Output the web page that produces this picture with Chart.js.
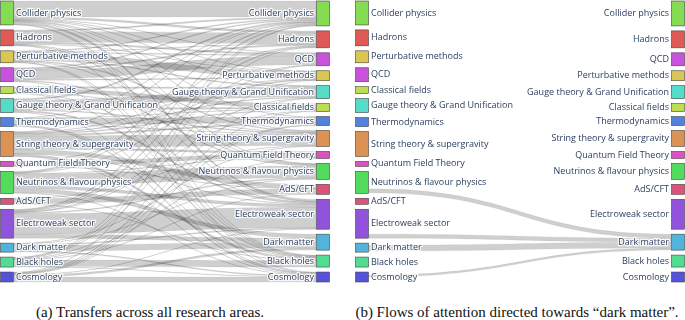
<!DOCTYPE html>
<html>
<head>
<meta charset="utf-8">
<script src="https://cdn.jsdelivr.net/npm/chart.js@4/dist/chart.umd.min.js"></script>
<style>
html,body{margin:0;padding:0;background:#fff;width:685px;height:320px;overflow:hidden;position:relative}
canvas{position:absolute;top:0}
.cap{position:absolute;top:304px;line-height:16px;font-family:"Liberation Serif","DejaVu Serif",serif;font-size:15px;color:#111;white-space:nowrap;transform:translateX(-50%)}
</style>
</head>
<body>
<canvas id="ca" width="331" height="284" style="left:0px"></canvas>
<canvas id="cb" width="331" height="284" style="left:355px"></canvas>
<div class="cap" id="capA" style="left:150px"></div>
<div class="cap" id="capB" style="left:517px"></div>
<script>
// ---- data ----
const categories = ['Collider physics','Hadrons','Perturbative methods','QCD','Classical fields',
  'Gauge theory & Grand Unification','Thermodynamics','String theory & supergravity',
  'Quantum Field Theory','Neutrinos & flavour physics','AdS/CFT','Electroweak sector',
  'Dark matter','Black holes','Cosmology'];
const rightOrder = ['Collider physics','Hadrons','QCD','Perturbative methods',
  'Gauge theory & Grand Unification','Classical fields','Thermodynamics',
  'String theory & supergravity','Quantum Field Theory','Neutrinos & flavour physics',
  'AdS/CFT','Electroweak sector','Dark matter','Black holes','Cosmology'];
const linkSource = [
  0,0,0,0,0,0,0,0,0,0,0,
  1,1,1,1,1,1,1,
  2,2,2,2,2,2,2,2,2,
  3,3,3,3,3,3,
  4,4,4,4,4,
  5,5,5,5,5,5,
  6,6,6,6,6,6,
  7,7,7,7,7,7,7,7,7,7,7,
  8,8,8,
  9,9,9,9,9,9,9,9,
  10,10,10,
  11,11,11,11,11,11,11,11,
  12,12,12,12,12,
  13,13,13,13,13,13,13,13,
  14,14,14,14,14,14,14,14];
const linkTarget = [
  0,1,11,2,13,14,7,6,5,9,3,
  1,3,0,9,2,11,13,
  2,3,5,0,13,7,1,9,14,
  3,1,2,0,9,13,
  4,5,13,7,11,
  5,4,7,11,0,14,
  6,13,14,4,0,7,
  7,10,8,13,5,4,14,6,11,0,2,
  8,10,2,
  9,12,11,0,8,14,1,2,
  10,7,13,
  11,12,0,9,1,3,4,5,
  12,14,11,9,7,
  13,10,6,14,8,0,1,3,
  14,12,11,6,4,0,2,5];
const linkValue = [
  16,2,2,0.5,0.5,0.5,0.5,0.5,0.5,0.5,0.5,
  11,1.5,1.5,0.5,0.5,0.5,0.5,
  6,1,1,1,0.5,1,0.5,0.5,0.5,
  9,1.5,1,1,1,0.5,
  4,1.5,0.5,0.5,0.5,
  8,1.5,1,1.5,1.5,0.5,
  6,0.5,1,0.5,0.5,0.5,
  11.5,4,2,2,1,1,0.5,1.5,0.5,0.5,0.5,
  4,0.5,0.5,
  12,4,3,1,0.5,0.5,0.5,0.5,
  5,0.5,0.5,
  20.5,4,1,1,1,0.5,0.5,0.5,
  6,1,1,0.5,0.5,
  6.5,0.5,0.5,0.5,0.5,0.5,0.5,0.5,
  5,2,0.5,0.5,0.5,0.5,0.5,0.5];
const focusArea = 'Dark matter';
const captions = ['(a) Transfers across all research areas.',
  '(b) Flows of attention directed towards \u201cdark matter\u201d.'];

// ---- styles ----
const nodeColors = ['#84dc52','#e05a55','#dac652','#c952dc','#bede52','#55dcc8','#5282dc',
  '#dc9255','#dc52c0','#52dc5e','#dc527a','#9152dc','#52b4dc','#52dc91','#5552dc'];
const NODE_PAD = 5, NODE_W = 14, LINK_FILL = 'rgba(0,0,0,0.19)', LINK_LINE = 'rgba(0,0,0,0.1)';

// ---- layout in value units ----
function computeLayout(){
  const n = categories.length;
  const outSum = new Array(n).fill(0), inSum = new Array(n).fill(0);
  linkValue.forEach((v,i)=>{ outSum[linkSource[i]] += v; inSum[linkTarget[i]] += v; });
  const leftY = [], rightY = [];
  let y = 0;
  categories.forEach((c,k)=>{ leftY[k] = y; y += outSum[k] + NODE_PAD; });
  const total = y - NODE_PAD;
  y = 0;
  rightOrder.forEach(name=>{ const k = categories.indexOf(name); rightY[k] = y; y += inSum[k] + NODE_PAD; });
  const links = linkValue.map((v,i)=>({s:linkSource[i], t:linkTarget[i], v}));
  for (let k=0;k<n;k++){
    let o = leftY[k];
    links.filter(l=>l.s===k).sort((a,b)=>rightY[a.t]-rightY[b.t]).forEach(l=>{ l.y0 = o; o += l.v; });
    o = rightY[k];
    links.filter(l=>l.t===k).sort((a,b)=>leftY[a.s]-leftY[b.s]).forEach(l=>{ l.y1 = o; o += l.v; });
  }
  return {outSum, inSum, leftY, rightY, links, total};
}
const L = computeLayout();

function sankeyPlugin(showLink){
  return {
    id: 'sankey',
    afterDatasetsDraw(chart){
      const ctx = chart.ctx, xs = chart.scales.x, ys = chart.scales.y;
      const xL = xs.getPixelForValue(0), xR = xs.getPixelForValue(1);
      const x0 = xL + NODE_W, x1 = xR - NODE_W, xm = (x0 + x1) / 2;
      ctx.save();
      // links
      L.links.forEach(l=>{
        if (!showLink(l)) return;
        const a = ys.getPixelForValue(l.y0), b = ys.getPixelForValue(l.y0 + l.v);
        const c = ys.getPixelForValue(l.y1), d = ys.getPixelForValue(l.y1 + l.v);
        ctx.beginPath();
        ctx.moveTo(x0, a);
        ctx.bezierCurveTo(xm, a, xm, c, x1, c);
        ctx.lineTo(x1, d);
        ctx.bezierCurveTo(xm, d, xm, b, x0, b);
        ctx.closePath();
        ctx.fillStyle = LINK_FILL; ctx.fill();
        ctx.lineWidth = 0.5; ctx.strokeStyle = LINK_LINE; ctx.stroke();
      });
      // nodes
      categories.forEach((c,k)=>{
        const ya = ys.getPixelForValue(L.leftY[k]), yb = ys.getPixelForValue(L.leftY[k] + L.outSum[k]);
        const yc = ys.getPixelForValue(L.rightY[k]), yd = ys.getPixelForValue(L.rightY[k] + L.inSum[k]);
        ctx.fillStyle = nodeColors[k]; ctx.strokeStyle = '#444'; ctx.lineWidth = 0.6;
        ctx.fillRect(xL + 0.5, ya, NODE_W - 1, yb - ya); ctx.strokeRect(xL + 0.5, ya, NODE_W - 1, yb - ya);
        ctx.fillRect(xR - NODE_W + 0.5, yc, NODE_W - 1, yd - yc); ctx.strokeRect(xR - NODE_W + 0.5, yc, NODE_W - 1, yd - yc);
      });
      // labels
      ctx.font = '9px "Open Sans"';
      ctx.textBaseline = 'middle';
      ctx.lineJoin = 'round';
      categories.forEach((c,k)=>{
        const yl = ys.getPixelForValue(L.leftY[k] + L.outSum[k] / 2);
        const yr = ys.getPixelForValue(L.rightY[k] + L.inSum[k] / 2);
        [[x0 + 2, yl, 'left'], [x1 - 2, yr, 'right']].forEach(([x, y, al])=>{
          ctx.textAlign = al;
          ctx.lineWidth = 2.5; ctx.strokeStyle = 'rgba(255,255,255,0.85)';
          ctx.strokeText(c, x, y);
          ctx.fillStyle = '#2a3f5f';
          ctx.fillText(c, x, y);
        });
      });
      ctx.restore();
    }
  };
}

function makeChart(id, showLink){
  return new Chart(document.getElementById(id), {
    type: 'scatter',
    data: { datasets: [] },
    options: {
      responsive: false, animation: false, events: [],
      layout: { padding: { left: 0, right: 1, top: 1, bottom: 2 } },
      plugins: { legend: { display: false }, tooltip: { enabled: false } },
      scales: {
        x: { type: 'linear', min: 0, max: 1, display: false },
        y: { type: 'linear', min: 0, max: L.total, reverse: true, display: false }
      }
    },
    plugins: [sankeyPlugin(showLink)]
  });
}

document.getElementById('capA').textContent = captions[0];
document.getElementById('capB').textContent = captions[1];
const focusIdx = categories.indexOf(focusArea);
const start = () => {
  makeChart('ca', () => true);
  makeChart('cb', l => l.t === focusIdx);
};
if (document.fonts && document.fonts.load) {
  document.fonts.load('9px "Open Sans"').then(start, start);
} else start();
</script>
</body>
</html>
